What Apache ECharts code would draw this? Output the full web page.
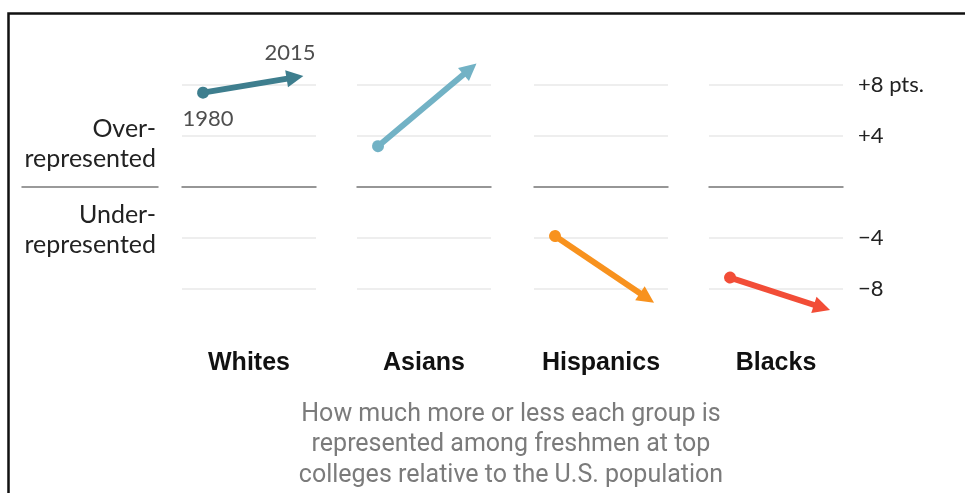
<!DOCTYPE html>
<html>
<head>
<meta charset="utf-8">
<script src="https://cdn.jsdelivr.net/npm/echarts@6/dist/echarts.min.js"></script>
<style>
  html, body { margin: 0; padding: 0; background: #fff; }
  #chart { width: 965px; height: 493px; }
</style>
</head>
<body>
<div id="chart"></div>
<script>
// groups and values (points relative to U.S. population)
const groups = ['Whites', 'Asians', 'Hispanics', 'Blacks'];
const years = [1980, 2015];
const values1980 = [7.4, 3.2, -3.85, -7.1];
const values2015 = [8.6, 9.25, -8.7, -9.45];
const colors = ['#3e7e8e', '#72b2c5', '#f8921e', '#f24d37'];

const yTicks = [-8, -4, 4, 8];
const yTickLabels = ['\u22128', '\u22124', '+4', '+8 pts.'];
const sideLabels = ['Over-\nrepresented', 'Under-\nrepresented'];
const note = 'How much more or less each group is\nrepresented among freshmen at top\ncolleges relative to the U.S. population';

const panelLeft = [182, 357, 534, 709];
const panelWidth = 134;
const gridTop = 34;
const gridHeight = 306; // -12..12

// plain triangle head, pointing up (rotated by echarts)
const arrowHead = 'path://M5,0 L10,9 L0,9 Z';

const chart = echarts.init(document.getElementById('chart'));

const grids = [], xAxes = [], yAxes = [], series = [], titles = [];

groups.forEach((g, i) => {
  grids.push({ left: panelLeft[i], top: gridTop, width: panelWidth, height: gridHeight });
  xAxes.push({
    gridIndex: i, type: 'value', min: 1972, max: 2023,
    axisLine: { show: true, onZero: true, lineStyle: { color: '#7a7a7a', width: 1.5 } },
    axisTick: { show: false }, axisLabel: { show: false }, splitLine: { show: false }
  });
  yAxes.push({
    gridIndex: i, type: 'value', min: -12, max: 12, interval: 4,
    position: 'right',
    axisLine: { show: false }, axisTick: { show: false },
    splitLine: { show: true, showMinLine: false, showMaxLine: false, lineStyle: { color: '#e8e8e8', width: 1.5 } },
    axisLabel: {
      show: i === groups.length - 1,
      margin: 15,
      color: '#222', fontSize: 22, fontFamily: 'Lato, sans-serif',
      formatter: v => { const k = yTicks.indexOf(v); return k >= 0 ? yTickLabels[k] : ''; }
    }
  });
  series.push({
    type: 'lines', coordinateSystem: 'cartesian2d', xAxisIndex: i, yAxisIndex: i,
    symbol: ['circle', arrowHead], symbolSize: [12, 17],
    lineStyle: { color: colors[i], width: 6, opacity: 1 },
    data: [{ coords: [[years[0], values1980[i]], [years[1], values2015[i]]] }],
    z: 5
  });
  titles.push({
    text: g, left: panelLeft[i] + panelWidth / 2, top: 351, textAlign: 'center', padding: 0,
    textStyle: { fontSize: 25, fontWeight: 'bold', color: '#111', fontFamily: 'Liberation Sans, Arial, sans-serif' }
  });
});

// year labels on the Whites arrow
series.push({
  type: 'scatter', xAxisIndex: 0, yAxisIndex: 0, symbolSize: 0, silent: true,
  data: [
    { value: [years[0], values1980[0]], label: { show: true, formatter: String(years[0]), position: 'bottom', distance: 15, offset: [5, 0] } },
    { value: [years[1], values2015[0]], label: { show: true, formatter: String(years[1]), position: 'top', distance: 13, offset: [-5, 0] } }
  ],
  label: { color: '#222', fontSize: 22, fontFamily: 'Lato, sans-serif' }
});

// zero line for the side labels
grids.push({ left: 22, top: gridTop, width: 136, height: gridHeight });
xAxes.push({
  gridIndex: 4, type: 'value', min: 0, max: 1,
  axisLine: { show: true, onZero: true, lineStyle: { color: '#7a7a7a', width: 1.5 } },
  axisTick: { show: false }, axisLabel: { show: false }, splitLine: { show: false }
});
yAxes.push({
  gridIndex: 4, type: 'value', min: -12, max: 12, interval: 4,
  axisLine: { show: false }, axisTick: { show: false }, axisLabel: { show: false }, splitLine: { show: false }
});

titles.push({
  text: note, left: 511, top: 399, textAlign: 'center', padding: 0,
  textStyle: { fontSize: 25, fontWeight: 'normal', color: '#7b7b7b', lineHeight: 30.5, fontFamily: 'Liberation Sans Narrow, Roboto, sans-serif' }
});

const sideText = { fill: '#222', font: '25px Lato, sans-serif', textAlign: 'right', lineHeight: 30 };

chart.setOption({
  animation: false,
  title: titles,
  grid: grids,
  xAxis: xAxes,
  yAxis: yAxes,
  series: series,
  graphic: [
    { type: 'rect', left: 6, top: 11, shape: { width: 1000, height: 600 }, style: { fill: 'none', stroke: '#111', lineWidth: 2.5 }, silent: true },
    { type: 'text', right: 965 - 156, top: 114, style: Object.assign({ text: sideLabels[0] }, sideText) },
    { type: 'text', right: 965 - 156, top: 200, style: Object.assign({ text: sideLabels[1] }, sideText) }
  ]
});
</script>
</body>
</html>
